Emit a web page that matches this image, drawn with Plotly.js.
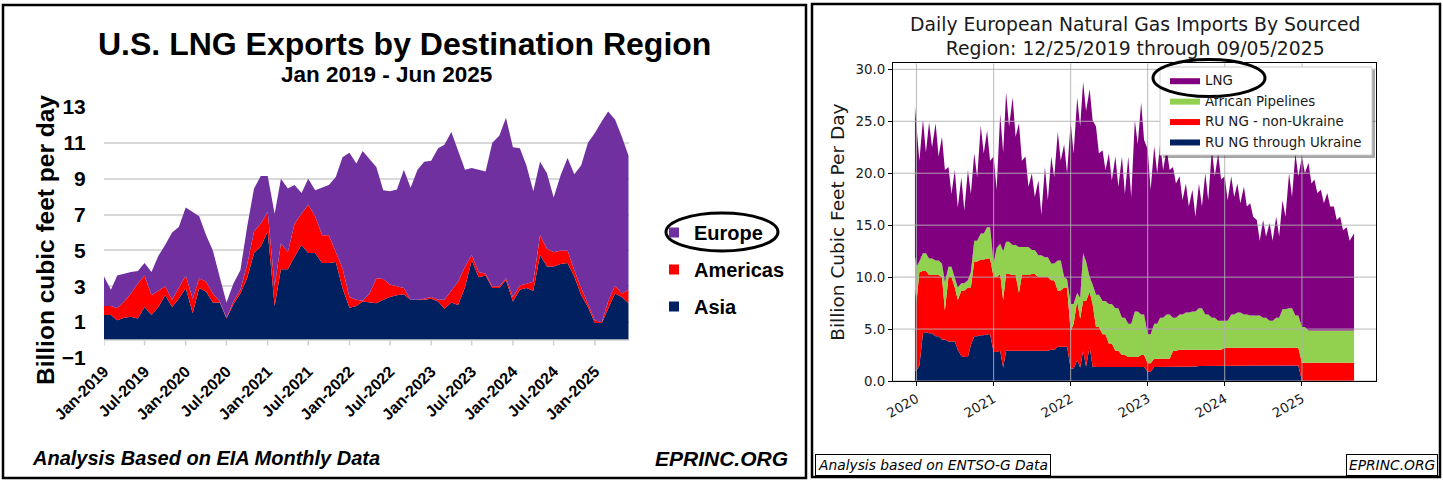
<!DOCTYPE html>
<html>
<head>
<meta charset="utf-8">
<script src="https://cdn.plot.ly/plotly-3.0.1.min.js"></script>
<style>html,body{margin:0;padding:0;background:#fff;}#chart{width:1443px;height:483px;}</style>
</head>
<body>
<div id="chart"></div>
<script>
// ---------- Left chart: U.S. LNG exports (Bcf/d), monthly Jan 2019 - Jun 2025 ----------
const usMonths = [
 '2019-01-01','2019-02-01','2019-03-01','2019-04-01','2019-05-01','2019-06-01','2019-07-01','2019-08-01','2019-09-01','2019-10-01','2019-11-01','2019-12-01',
 '2020-01-01','2020-02-01','2020-03-01','2020-04-01','2020-05-01','2020-06-01','2020-07-01','2020-08-01','2020-09-01','2020-10-01','2020-11-01','2020-12-01',
 '2021-01-01','2021-02-01','2021-03-01','2021-04-01','2021-05-01','2021-06-01','2021-07-01','2021-08-01','2021-09-01','2021-10-01','2021-11-01','2021-12-01',
 '2022-01-01','2022-02-01','2022-03-01','2022-04-01','2022-05-01','2022-06-01','2022-07-01','2022-08-01','2022-09-01','2022-10-01','2022-11-01','2022-12-01',
 '2023-01-01','2023-02-01','2023-03-01','2023-04-01','2023-05-01','2023-06-01','2023-07-01','2023-08-01','2023-09-01','2023-10-01','2023-11-01','2023-12-01',
 '2024-01-01','2024-02-01','2024-03-01','2024-04-01','2024-05-01','2024-06-01','2024-07-01','2024-08-01','2024-09-01','2024-10-01','2024-11-01','2024-12-01',
 '2025-01-01','2025-02-01','2025-03-01','2025-04-01','2025-05-01','2025-06-01'];
const asia = [1.4,1.4,1.1,1.25,1.3,1.2,1.85,1.4,1.85,2.5,1.85,2.3,
 2.9,1.5,2.9,2.7,2.1,2.1,1.2,2.0,2.6,3.45,4.85,5.2,
 6.05,1.9,3.95,3.95,4.65,5.3,4.85,4.85,4.3,4.3,4.35,2.9,
 1.8,1.9,2.15,2.1,2.05,2.25,2.4,2.5,2.55,2.25,2.25,2.25,
 2.3,2.15,1.75,2.1,1.95,2.95,4.45,3.5,3.6,2.9,2.9,3.35,
 2.15,2.8,2.9,2.75,4.75,4.1,4.1,4.25,4.3,3.55,2.5,1.85,
 0.95,0.95,1.75,2.6,2.4,2.05];
const americas = [0.5,0.5,0.67,0.9,1.3,1.95,1.75,1.1,0.9,0.5,0.4,0.6,
 0.7,0.8,0.55,0.55,0.5,0.05,0.05,0.15,0.2,0.75,1.2,1.3,
 1.1,1.1,1.45,0.95,1.85,1.75,2.7,2.05,1.55,1.55,0.55,1.1,
 0.6,0.35,0.05,0.5,1.4,1.15,0.7,0.5,0.35,0.0,0.0,0.05,
 0.1,0.1,0.5,0.65,1.3,1.15,0.3,0.3,0.1,0.1,0.1,0.1,
 0.25,0.25,0.25,0.5,1.1,1.0,0.8,0.75,0.7,0.35,0.4,0.2,
 0.15,0.05,0.4,0.45,0.2,0.75];
const europe = [1.65,0.9,1.83,1.55,1.2,0.7,0.7,1.3,1.95,2.3,3.75,3.4,
 3.8,4.85,3.45,2.6,2.4,1.35,0.85,1.0,1.1,2.1,2.4,2.65,
 2.0,4.05,3.6,3.55,2.15,1.15,1.45,1.45,2.65,2.8,4.2,6.2,
 8.05,7.6,8.35,7.5,6.2,4.95,5.2,5.4,6.6,6.25,7.25,7.65,
 7.6,8.45,8.65,8.85,7.35,5.4,4.85,5.7,5.7,8.0,8.4,8.95,
 8.35,7.65,6.6,5.05,4.1,4.2,3.05,4.2,5.15,5.35,6.85,8.95,
 10.45,11.2,10.6,9.25,8.75,7.45];
const usTickVals = ['2019-01-01','2019-07-01','2020-01-01','2020-07-01','2021-01-01','2021-07-01','2022-01-01','2022-07-01','2023-01-01','2023-07-01','2024-01-01','2024-07-01','2025-01-01'];
const usTickText = ['Jan-2019','Jul-2019','Jan-2020','Jul-2020','Jan-2021','Jul-2021','Jan-2022','Jul-2022','Jan-2023','Jul-2023','Jan-2024','Jul-2024','Jan-2025'];
const usYTicks = [-1,1,3,5,7,9,11,13];

// ---------- Right chart: European gas imports (Bcf/d), sampled readings ----------
const euDates = ['2019-12-25',
 '2020-01-01','2020-01-15','2020-02-01','2020-02-15','2020-03-01','2020-03-15','2020-04-01','2020-04-15','2020-05-01','2020-05-15','2020-06-01','2020-06-15',
 '2020-07-01','2020-07-15','2020-08-01','2020-08-15','2020-09-01','2020-09-15','2020-10-01','2020-10-15','2020-11-01','2020-11-15','2020-12-01','2020-12-15',
 '2021-01-01','2021-01-15','2021-02-01','2021-02-15','2021-03-01','2021-03-15','2021-04-01','2021-04-15','2021-05-01','2021-05-15','2021-06-01','2021-06-15',
 '2021-07-01','2021-07-15','2021-08-01','2021-08-15','2021-09-01','2021-09-15','2021-10-01','2021-10-15','2021-11-01','2021-11-15','2021-12-01','2021-12-15',
 '2022-01-01','2022-01-15','2022-02-01','2022-02-15','2022-03-01','2022-03-15','2022-04-01','2022-04-15','2022-05-01','2022-05-15','2022-06-01','2022-06-15',
 '2022-07-01','2022-07-15','2022-08-01','2022-08-15','2022-09-01','2022-09-15','2022-10-01','2022-10-15','2022-11-01','2022-11-15','2022-12-01','2022-12-15',
 '2023-01-01','2023-01-15','2023-02-01','2023-02-15','2023-03-01','2023-03-15','2023-04-01','2023-04-15','2023-05-01','2023-05-15','2023-06-01','2023-06-15',
 '2023-07-01','2023-07-15','2023-08-01','2023-08-15','2023-09-01','2023-09-15','2023-10-01','2023-10-15','2023-11-01','2023-11-15','2023-12-01','2023-12-15',
 '2024-01-01','2024-01-15','2024-02-01','2024-02-15','2024-03-01','2024-03-15','2024-04-01','2024-04-15','2024-05-01','2024-05-15','2024-06-01','2024-06-15',
 '2024-07-01','2024-07-15','2024-08-01','2024-08-15','2024-09-01','2024-09-15','2024-10-01','2024-10-15','2024-11-01','2024-11-15','2024-12-01','2024-12-15',
 '2025-01-01','2025-01-15','2025-02-01','2025-02-15','2025-03-01','2025-03-15','2025-04-01','2025-04-15','2025-05-01','2025-05-15','2025-06-01','2025-06-15',
 '2025-07-01','2025-07-15','2025-08-01','2025-08-15','2025-09-05'];
const ruThroughUkraine = [1.0,
 1.0,1.5,4.6,4.7,4.6,4.6,4.3,4.3,4.0,4.0,3.8,3.8,3.8,3.0,2.4,2.3,2.3,3.5,4.3,4.3,4.4,4.4,4.5,4.5,
 2.8,2.8,2.9,1.3,2.9,2.9,2.9,2.9,2.9,2.9,2.9,2.9,2.9,2.9,2.9,2.9,2.9,2.9,3.0,3.0,3.3,3.3,3.3,3.3,
 1.2,1.2,2.0,1.3,2.9,1.4,3.3,1.4,1.35,1.35,1.35,1.35,1.35,1.35,1.35,1.35,1.35,1.35,1.35,1.35,1.35,1.35,1.35,1.35,
 0.9,0.9,1.35,1.35,1.35,1.35,1.35,1.35,1.35,1.35,1.4,1.4,1.4,1.4,1.4,1.4,1.45,1.45,1.45,1.45,1.5,1.5,1.5,1.5,
 1.5,1.5,1.5,1.5,1.5,1.5,1.5,1.5,1.5,1.5,1.5,1.5,1.5,1.5,1.5,1.5,1.5,1.5,1.5,1.5,1.5,1.5,1.5,1.5,
 0,0,0,0,0,0,0,0,0,0,0,0,0,0,0,0,0];
const ruNonUkraine = [8.5,
 6.5,9.0,6.0,5.9,5.6,5.6,5.9,5.9,6.0,2.8,6.2,6.2,5.2,4.8,6.3,6.4,6.7,5.5,7.2,7.2,7.3,7.3,7.3,7.3,
 7.2,7.2,7.4,6.5,7.4,7.4,7.3,7.3,5.6,7.3,7.3,7.3,7.4,7.4,7.1,7.1,7.1,7.1,6.7,6.7,5.4,5.4,5.7,5.7,
 3.6,4.3,5.7,4.7,4.8,6.3,5.3,6.0,3.85,3.85,3.15,3.15,2.25,2.25,1.55,1.55,1.15,1.15,0.95,0.95,0.95,0.95,1.15,1.15,
 0.8,0.8,0.8,0.8,0.8,0.8,0.8,0.8,1.55,1.55,1.6,1.6,1.6,1.6,1.6,1.6,1.55,1.55,1.55,1.55,1.5,1.5,1.5,1.5,
 1.7,1.7,1.7,1.7,1.7,1.7,1.7,1.7,1.7,1.7,1.7,1.7,1.7,1.7,1.7,1.7,1.7,1.7,1.7,1.7,1.7,1.7,1.7,1.7,
 1.75,1.75,1.75,1.75,1.75,1.75,1.75,1.75,1.75,1.75,1.75,1.75,1.75,1.75,1.75,1.75,1.75];
const africanPipelines = [2.5,
 3.5,1.0,1.7,1.7,1.6,1.6,1.4,1.4,1.3,2.7,1.0,1.0,1.0,1.2,0.7,0.7,0.7,1.5,2.0,2.0,2.5,2.5,3.0,3.0,
 1.3,2.8,2.9,4.7,3.1,3.1,2.9,2.9,4.4,2.7,2.7,2.7,2.3,2.3,2.1,2.1,1.9,1.9,1.6,1.6,2.9,2.9,1.0,0.8,
 2.6,1.9,0.8,2.0,4.6,3.8,1.4,1.9,3.1,3.1,3.2,3.2,3.8,3.8,4.1,4.1,3.6,3.6,3.2,3.2,4.4,4.4,3.9,3.9,
 2.8,2.8,3.35,3.35,3.95,3.95,4.25,4.25,3.2,3.2,3.4,3.4,3.6,3.6,3.7,3.7,4.0,4.0,3.4,3.4,3.1,3.1,2.8,2.8,
 2.6,2.6,3.2,3.2,3.4,3.4,3.2,3.2,3.1,3.1,3.1,3.1,2.9,2.9,2.6,2.6,2.9,2.9,3.7,3.7,3.8,3.8,3.1,3.1,
 3.45,3.45,3.1,3.1,3.1,3.1,3.1,3.1,3.1,3.1,3.1,3.1,3.1,3.1,3.1,3.1,3.1];
const lngImports = [14.4,
 13.6,9.7,12.9,9.7,13.1,10.7,13.2,10.0,12.2,10.8,9.6,7.0,10.3,7.7,10.2,7.0,10.6,7.5,8.4,6.1,10.4,7.7,9.3,6.4,
 10.3,5.6,12.5,9.5,14.4,11.1,14.2,10.4,11.9,8.3,8.7,5.8,7.4,5.1,7.2,3.9,8.7,5.5,10.3,8.3,12.4,9.6,12.8,10.2,
 17.5,14.5,18.8,16.5,16.5,14.5,18.1,15.8,16.2,13.6,14.5,12.6,14.5,11.9,14.6,11.7,15.5,11.9,16.1,12.2,18.4,16.1,20.4,16.8,
 17.8,13.9,17.1,14.5,16.8,14.2,15.9,13.9,14.5,12.9,13.3,11.0,12.4,10.2,11.7,9.1,12.0,9.8,13.6,11.0,16.2,13.6,16.1,13.6,
 13.9,11.6,13.3,11.3,12.4,10.5,12.3,10.4,10.8,9.5,9.2,7.2,9.4,7.8,9.4,7.7,9.7,7.8,10.5,8.9,13.0,10.7,15.6,13.4,
 16.4,14.8,16.15,14.15,14.55,13.25,13.55,12.25,13.25,11.95,11.95,10.65,10.95,9.65,9.95,8.65,9.35];
const euTickVals = ['2020-01-01','2021-01-01','2022-01-01','2023-01-01','2024-01-01','2025-01-01'];
const euTickText = ['2020','2021','2022','2023','2024','2025'];
const euYTicks = [0,5,10,15,20,25,30];
const euYTickText = ['0.0','5.0','10.0','15.0','20.0','25.0','30.0'];

// ---------- helpers ----------
const W = 1443, H = 483;
const px = x => x / W;
const py = y => 1 - y / H;
const NARROW = 'Liberation Sans Narrow, Arial Narrow, Liberation Sans, Arial, sans-serif';
const SANS = 'Liberation Sans, Arial, sans-serif';
const DJV = 'DejaVu Sans, sans-serif';

const traces = [];
// left stacked areas
[['Asia', asia, '#002060'], ['Americas', americas, '#FF0000'], ['Europe', europe, '#7030A0']].forEach(([name, vals, col]) => {
  traces.push({type:'scatter', mode:'lines', x: usMonths, y: vals, name, stackgroup:'us',
    line:{width:0, color:col}, fillcolor: col, showlegend:false, xaxis:'x', yaxis:'y', hoverinfo:'skip'});
});
// left legend entries (square swatches)
[['Europe', '#7030A0'], ['Americas', '#FF0000'], ['Asia', '#002060']].forEach(([name, col]) => {
  traces.push({type:'scatter', mode:'markers', x:[null], y:[null], name, legendgroup:name,
    marker:{symbol:'square', size:10, color:col}, xaxis:'x', yaxis:'y', legend:'legend', showlegend:true});
});
// right stacked areas
[['RU NG through Ukraine', ruThroughUkraine, '#002060'], ['RU NG - non-Ukraine', ruNonUkraine, '#FF0000'],
 ['African Pipelines', africanPipelines, '#92D050'], ['LNG', lngImports, '#800080']].forEach(([name, vals, col]) => {
  traces.push({type:'scatter', mode:'lines', x: euDates, y: vals, name, stackgroup:'eu',
    line:{width:0, color:col}, fillcolor: col, xaxis:'x2', yaxis:'y2', legend:'legend2', showlegend:true, hoverinfo:'skip'});
});

const shapes = [];
// panel borders
shapes.push({type:'rect', xref:'paper', yref:'paper', x0:px(3), x1:px(806), y0:py(478), y1:py(5), line:{color:'#000', width:2.5}});
shapes.push({type:'rect', xref:'paper', yref:'paper', x0:px(812), x1:px(1440), y0:py(477), y1:py(4), line:{color:'#000', width:2.5}});
// left: category axis line at 0 with tick marks
shapes.push({type:'line', xref:'x domain', yref:'y', x0:0, x1:1, y0:0, y1:0, line:{color:'#d0d0d0', width:1.5}, layer:'above'});
usTickVals.forEach(t => shapes.push({type:'line', xref:'x', yref:'y', x0:t, x1:t, y0:0, y1:-0.3, line:{color:'#d0d0d0', width:1.5}, layer:'above'}));
// right: grid drawn over the areas (as in the source)
euTickVals.forEach(t => shapes.push({type:'line', xref:'x2', yref:'y2 domain', x0:t, x1:t, y0:0, y1:1, line:{color:'#b0b0b0', width:0.9}, layer:'above'}));
euYTicks.forEach(v => shapes.push({type:'line', xref:'x2 domain', yref:'y2', x0:0, x1:1, y0:v, y1:v, line:{color:'#b0b0b0', width:0.9}, layer:'above'}));
// right legend frame + shadow
shapes.push({type:'rect', xref:'paper', yref:'paper', x0:px(1163), x1:px(1375), y0:py(158), y1:py(70), fillcolor:'rgba(0,0,0,0.35)', line:{width:0}, layer:'above'});
shapes.push({type:'rect', xref:'paper', yref:'paper', x0:px(1160), x1:px(1372), y0:py(155), y1:py(67), fillcolor:'#ffffff', line:{color:'#cccccc', width:1}, layer:'above'});
// highlight ellipses
shapes.push({type:'circle', xref:'paper', yref:'paper', x0:px(666), x1:px(778), y0:py(251), y1:py(213), line:{color:'#000', width:3}, layer:'above'});
shapes.push({type:'circle', xref:'paper', yref:'paper', x0:px(1153), x1:px(1265), y0:py(96.5), y1:py(59.5), line:{color:'#000', width:3}, layer:'above'});

const annotations = [
  {text:'U.S. LNG Exports by Destination Region', xref:'paper', yref:'paper', x:px(404), y:py(44), xanchor:'center', yanchor:'middle', showarrow:false,
   font:{family:NARROW, size:32, weight:'bold', color:'#000'}},
  {text:'Jan 2019 - Jun 2025', xref:'paper', yref:'paper', x:px(386), y:py(75), xanchor:'center', yanchor:'middle', showarrow:false,
   font:{family:NARROW, size:22.5, weight:'bold', color:'#000'}},
  {text:'Billion cubic feet per day', xref:'paper', yref:'paper', x:px(45), y:py(240), xanchor:'center', yanchor:'middle', textangle:-90, showarrow:false,
   font:{family:NARROW, size:24.5, weight:'bold', color:'#000'}},
  {text:'Analysis Based on EIA Monthly Data', xref:'paper', yref:'paper', x:px(30), y:py(458), xanchor:'left', yanchor:'middle', showarrow:false,
   font:{family:NARROW, size:20, weight:'bold', style:'italic', color:'#000'}},
  {text:'EPRINC.ORG', xref:'paper', yref:'paper', x:px(790), y:py(458), xanchor:'right', yanchor:'middle', showarrow:false,
   font:{family:NARROW, size:21, weight:'bold', style:'italic', color:'#000'}},
  {text:'Daily European Natural Gas Imports By Sourced<br>Region: 12/25/2019 through 09/05/2025', xref:'paper', yref:'paper', x:px(1135), y:py(36), xanchor:'center', yanchor:'middle', showarrow:false,
   font:{family:DJV, size:18.8, color:'#1a1a1a'}},
  {text:'Analysis based on ENTSO-G Data', xref:'paper', yref:'paper', x:px(815), y:py(465), xanchor:'left', yanchor:'middle', showarrow:false,
   font:{family:DJV, size:13.8, style:'italic', color:'#000'}, bordercolor:'#000', borderwidth:1, borderpad:2, bgcolor:'#fff'},
  {text:'EPRINC.ORG', xref:'paper', yref:'paper', x:px(1438), y:py(465), xanchor:'right', yanchor:'middle', showarrow:false,
   font:{family:DJV, size:13.8, style:'italic', color:'#000'}, bordercolor:'#000', borderwidth:1, borderpad:2, bgcolor:'#fff'}
];

const layout = {
  width: W, height: H, margin:{l:0, r:0, t:0, b:0},
  paper_bgcolor:'#fff', plot_bgcolor:'#fff', showlegend:true,
  xaxis:{domain:[px(104), px(628.7)], anchor:'y', type:'date', range:['2019-01-01','2025-06-01'],
    tickmode:'array', tickvals:usTickVals, ticktext:usTickText, tickangle:-45,
    tickfont:{family:NARROW, size:16, weight:'bold', color:'#000'}, showgrid:false, zeroline:false, showline:false, ticks:'', automargin:false},
  yaxis:{domain:[py(358), py(107)], anchor:'x', range:[-1,13], tickmode:'array', tickvals:usYTicks,
    tickfont:{family:NARROW, size:21, weight:'bold', color:'#000'}, gridcolor:'#d9d9d9', gridwidth:2, zeroline:false, showline:false,
    ticks:'outside', ticklen:13, tickcolor:'rgba(0,0,0,0)', automargin:false},
  xaxis2:{domain:[px(893), px(1376)], anchor:'y2', type:'date', range:['2019-09-12','2025-12-18'],
    tickmode:'array', tickvals:euTickVals, ticktext:euTickText, tickangle:-30,
    tickfont:{family:DJV, size:13.4, color:'#1a1a1a'}, showgrid:false, zeroline:false,
    showline:true, linecolor:'#000', linewidth:1, mirror:true, ticks:'outside', ticklen:4, tickcolor:'#000', automargin:false},
  yaxis2:{domain:[py(381), py(63.3)], anchor:'x2', range:[0,30.58], tickmode:'array', tickvals:euYTicks, ticktext:euYTickText,
    tickfont:{family:DJV, size:13.4, color:'#1a1a1a'}, showgrid:false, zeroline:false,
    showline:true, linecolor:'#000', linewidth:1, mirror:true, ticks:'outside', ticklen:4, tickcolor:'#000', automargin:false,
    title:{text:'Billion Cubic Feet Per Day', font:{family:DJV, size:18.5, color:'#1a1a1a'}, standoff:6}},
  legend:{x:px(654), y:py(213), xanchor:'left', yanchor:'top', bgcolor:'rgba(0,0,0,0)', borderwidth:0,
    traceorder:'grouped', tracegroupgap:8, font:{family:SANS, size:20, weight:'bold', color:'#000'}, itemwidth:30},
  legend2:{x:px(1165), y:py(65), xanchor:'left', yanchor:'top', bgcolor:'rgba(0,0,0,0)', borderwidth:0,
    traceorder:'reversed', font:{family:DJV, size:13.4, color:'#1a1a1a'}},
  shapes, annotations
};

Plotly.newPlot('chart', traces, layout, {staticPlot:true, displayModeBar:false});
</script>
</body>
</html>
